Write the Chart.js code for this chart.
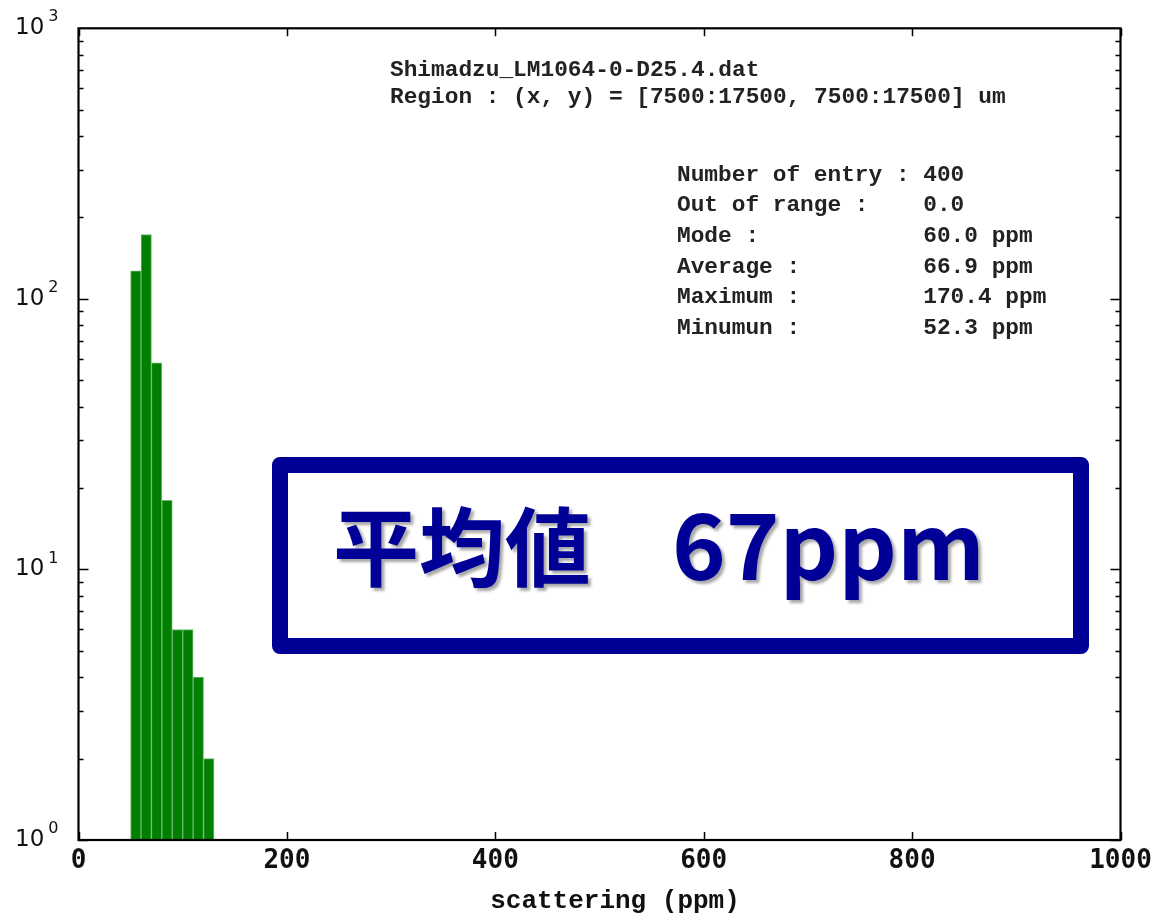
<!DOCTYPE html>
<html>
<head>
<meta charset="utf-8">
<script src="https://cdn.jsdelivr.net/npm/chart.js@4"></script>
<style>
  body { margin: 0; background: #fff; }
  #wrap { width: 1157px; height: 914px; }
</style>
</head>
<body>
<div id="wrap"><canvas id="hist" width="1157" height="914"></canvas></div>
<script>
// histogram bins (ppm) and counts
var binLow = [50, 60, 70, 80, 90, 100, 110, 120];
var binWidth = 10;
var counts = [127, 173, 58, 18, 6, 6, 4, 2];

var xTicks = [0, 200, 400, 600, 800, 1000];
var yExps = [0, 1, 2, 3];

var fileName = "Shimadzu_LM1064-0-D25.4.dat";
var regionText = "Region : (x, y) = [7500:17500, 7500:17500] um";
var statLabels = ["Number of entry :", "Out of range :", "Mode :", "Average :", "Maximum :", "Minumun :"];
var statValues = ["400", "0.0", "60.0 ppm", "66.9 ppm", "170.4 ppm", "52.3 ppm"];

var points = binLow.map(function (b, i) { return { x: b + binWidth / 2, y: counts[i] }; });

var frame = {
  id: "frame",
  afterDraw: function (chart) {
    var ctx = chart.ctx, a = chart.chartArea;
    var xs = chart.scales.x, ys = chart.scales.y;
    ctx.save();
    ctx.strokeStyle = "#000";
    ctx.lineWidth = 1.5;
    ctx.beginPath();
    // log ticks on left and right
    for (var e = 0; e < 3; e++) {
      for (var m = 1; m <= 9; m++) {
        var py = Math.round(ys.getPixelForValue(m * Math.pow(10, e))) + 0.5;
        var len = m === 1 ? 10 : 5;
        ctx.moveTo(a.left, py); ctx.lineTo(a.left + len, py);
        ctx.moveTo(a.right, py); ctx.lineTo(a.right - len, py);
      }
    }
    xTicks.forEach(function (v) {
      var px = Math.round(xs.getPixelForValue(v)) + 0.5;
      ctx.moveTo(px, a.bottom); ctx.lineTo(px, a.bottom - 8);
      ctx.moveTo(px, a.top); ctx.lineTo(px, a.top + 8);
    });
    ctx.stroke();

    ctx.lineWidth = 2.2;
    ctx.strokeRect(a.left, a.top, a.right - a.left, a.bottom - a.top);

    // x tick labels
    ctx.fillStyle = "#111";
    ctx.font = "bold 26px 'DejaVu Sans Mono'";
    ctx.textAlign = "center";
    ctx.textBaseline = "middle";
    xTicks.forEach(function (v) {
      ctx.fillText(String(v), xs.getPixelForValue(v), a.bottom + 21);
    });

    // y tick labels 10^n
    yExps.forEach(function (n) {
      var py = ys.getPixelForValue(Math.pow(10, n));
      ctx.font = "23px 'DejaVu Sans'";
      ctx.textAlign = "left";
      ctx.textBaseline = "middle";
      ctx.fillText("10", 15, py);
      var w = ctx.measureText("10").width;
      ctx.font = "16px 'DejaVu Sans'";
      ctx.fillText(String(n), 15 + w + 4, py - 11);
    });

    // axis title
    ctx.font = "bold 26px 'Liberation Mono'";
    ctx.textAlign = "center";
    ctx.fillStyle = "#111";
    ctx.fillText("scattering (ppm)", 615, 901);

    // header text
    ctx.font = "bold 22.8px 'Liberation Mono'";
    ctx.textAlign = "left";
    ctx.fillStyle = "#222";
    ctx.fillText(fileName, 390, 70);
    ctx.fillText(regionText, 390, 97);
    var cw = ctx.measureText("M").width;
    statLabels.forEach(function (s, i) {
      var y = 175 + i * 30.6;
      ctx.fillText(s, 677, y);
      ctx.fillText(statValues[i], 677 + 18 * cw, y);
    });

    // callout box
    ctx.strokeStyle = "#000096";
    ctx.lineWidth = 16;
    ctx.lineJoin = "round";
    ctx.strokeRect(280, 465, 801, 181);

    ctx.fillStyle = "#000096";
    ctx.shadowColor = "rgba(0,0,0,0.35)";
    ctx.shadowOffsetX = 3;
    ctx.shadowOffsetY = 3;
    ctx.shadowBlur = 3;
    ctx.font = "bold 86px 'Noto Sans CJK JP'";
    ctx.textBaseline = "alphabetic";
    ctx.fillText("平均値", 333, 580);
    var fs = 96;
    ctx.font = "bold " + fs + "px 'Noto Sans CJK JP'";
    var tw = ctx.measureText("67ppm").width;
    fs = fs * 313 / tw;
    ctx.font = "bold " + fs.toFixed(1) + "px 'Noto Sans CJK JP'";
    ctx.fillText("67ppm", 672, 580);
    ctx.restore();
  }
};

new Chart(document.getElementById("hist"), {
  type: "bar",
  data: {
    datasets: [{
      data: points,
      backgroundColor: "#007f00",
      borderColor: "#6fb86f",
      borderWidth: 1,
      barPercentage: 1.0,
      categoryPercentage: 1.0
    }]
  },
  options: {
    responsive: false,
    animation: false,
    layout: { padding: { left: 78.5, right: 36.5, top: 28.3, bottom: 74 } },
    plugins: { legend: { display: false }, tooltip: { enabled: false } },
    scales: {
      x: { type: "linear", min: 0, max: 1000, offset: false, display: false },
      y: { type: "logarithmic", min: 1, max: 1000, display: false }
    }
  },
  plugins: [frame]
});
</script>
</body>
</html>
